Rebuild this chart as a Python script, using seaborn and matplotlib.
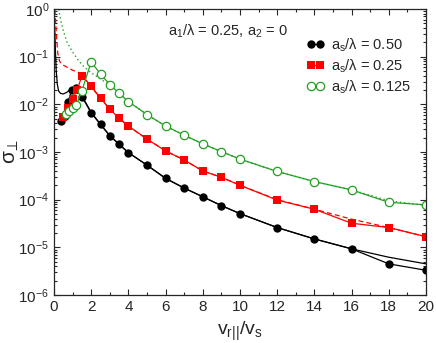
import numpy as np
import pandas as pd
import matplotlib
import matplotlib.pyplot as plt
import seaborn as sns
from matplotlib.ticker import LogLocator, MultipleLocator, NullFormatter

matplotlib.use("Agg")

# simulation points, one list per a_s/lambda
X_050 = [0.35, 0.6, 0.75, 0.95, 1.2, 1.5, 2, 2.5, 3, 3.5, 4, 5, 6, 7, 8, 9, 10, 12, 14, 16, 18, 20]
Y_050 = [4.4e-3, 5.6e-3, 1.1e-2, 2.0e-2, 2.2e-2, 1.45e-2, 6.6e-3, 3.8e-3, 2.2e-3, 1.45e-3, 9.7e-4,
         5.3e-4, 2.8e-4, 1.75e-4, 1.15e-4, 7.5e-5, 5.1e-5, 2.6e-5, 1.5e-5, 9.3e-6, 4.5e-6, 3.3e-6]

X_025 = [0.5, 0.75, 1.0, 1.25, 1.5, 2, 2.5, 3, 3.5, 4, 5, 6, 7, 8, 9, 10, 12, 14, 16, 18, 20]
Y_025 = [5.5e-3, 8.5e-3, 1.3e-2, 2.0e-2, 4.0e-2, 2.4e-2, 1.35e-2, 7.9e-3, 5.1e-3, 3.5e-3, 1.87e-3,
         1.05e-3, 6.8e-4, 4.0e-4, 2.95e-4, 2.0e-4, 9.8e-5, 6.3e-5, 3.2e-5, 2.6e-5, 1.67e-5]

X_0125 = [0.65, 0.8, 1.0, 1.2, 1.5, 2, 2.5, 3, 3.5, 4, 5, 6, 7, 8, 9, 10, 12, 14, 16, 18, 20]
Y_0125 = [6.4e-3, 7.1e-3, 8.3e-3, 9.5e-3, 1.93e-2, 7.8e-2, 4.3e-2, 2.6e-2, 1.7e-2, 1.14e-2, 6.1e-3,
          3.5e-3, 2.25e-3, 1.48e-3, 1.02e-3, 7.1e-4, 3.9e-4, 2.4e-4, 1.6e-4, 8.8e-5, 7.8e-5]

# theory curves
TX_050 = [0.02, 0.05, 0.08, 0.12, 0.18, 0.25, 0.35, 0.5, 0.7, 0.9, 1.1, 1.3, 1.5, 2, 2.5, 3, 3.5, 4,
          5, 6, 7, 8, 9, 10, 12, 14, 16, 18, 20]
TY_050 = [0.5, 0.3, 0.12, 0.05, 0.026, 0.019, 0.017, 0.0165, 0.018, 0.021, 0.022, 0.019, 0.015,
          6.8e-3, 3.8e-3, 2.2e-3, 1.45e-3, 9.7e-4, 5.3e-4, 2.8e-4, 1.75e-4, 1.15e-4, 7.5e-5,
          5.1e-5, 2.6e-5, 1.5e-5, 9.3e-6, 6.2e-6, 4.5e-6]

TX_025 = [0.05, 0.1, 0.15, 0.2, 0.3, 0.45, 0.7, 1.0, 1.4, 1.75, 2.0, 2.5, 3, 3.5, 4, 5, 6, 7, 8, 9,
          10, 12, 14, 16, 18, 20]
TY_025 = [0.95, 0.45, 0.22, 0.12, 0.08, 0.068, 0.06, 0.052, 0.045, 0.031, 0.023, 0.0135, 7.9e-3,
          5.1e-3, 3.5e-3, 1.87e-3, 1.05e-3, 6.8e-4, 4.0e-4, 2.95e-4, 2.0e-4, 1.0e-4, 6.3e-5,
          3.9e-5, 2.6e-5, 1.67e-5]

TX_0125 = [0.25, 0.35, 0.5, 0.7, 1.0, 1.3, 1.6, 2.0, 2.5, 3, 3.5, 4, 5, 6, 7, 8, 9, 10, 12, 14, 16,
           18, 20]
TY_0125 = [1.0, 0.6, 0.35, 0.2, 0.125, 0.085, 0.062, 0.046, 0.034, 0.025, 0.0175, 0.0116, 6.1e-3,
           3.5e-3, 2.25e-3, 1.48e-3, 1.02e-3, 7.1e-4, 3.9e-4, 2.4e-4, 1.6e-4, 9.5e-5, 7.5e-5]

LABELS = ["a$_s$/λ = 0.50", "a$_s$/λ = 0.25", "a$_s$/λ = 0.125"]
BLACK = "#000000"
RED = "#ff0000"
GREEN = "#23a023"

sns.set_style("ticks")
plt.rcParams["font.family"] = ["Liberation Sans", "DejaVu Sans"]
plt.rcParams["mathtext.fontset"] = "custom"
plt.rcParams["mathtext.rm"] = "Liberation Sans"
plt.rcParams["mathtext.default"] = "regular"

fig, ax = plt.subplots(figsize=(4.36, 3.43), dpi=100)
fig.subplots_adjust(left=54 / 436, right=426 / 436, bottom=1 - 295 / 343, top=1 - 9 / 343)

# theory lines
sns.lineplot(x=TX_050, y=TY_050, ax=ax, color=BLACK, linewidth=0.9, estimator=None, sort=False)
sns.lineplot(x=TX_025, y=TY_025, ax=ax, color=RED, linewidth=0.9, linestyle=(0, (4, 2.5)),
             estimator=None, sort=False)
sns.lineplot(x=TX_0125, y=TY_0125, ax=ax, color=GREEN, linewidth=1.0, linestyle=(0, (1, 2)),
             estimator=None, sort=False)

# simulation points
h1 = sns.lineplot(x=X_050, y=Y_050, ax=ax, color=BLACK, linewidth=0.9, marker="o", markersize=6,
                  markeredgewidth=0, estimator=None, sort=False).lines[-1]
h2 = sns.lineplot(x=X_025, y=Y_025, ax=ax, color=RED, linewidth=0.9, marker="s", markersize=5.5,
                  markeredgewidth=0, estimator=None, sort=False).lines[-1]
h3 = sns.lineplot(x=X_0125, y=Y_0125, ax=ax, color=GREEN, linewidth=0.9, marker="o", markersize=6,
                  markerfacecolor="white", markeredgecolor=GREEN, markeredgewidth=0.9,
                  estimator=None, sort=False).lines[-1]

ax.set_yscale("log")
ax.set_xlim(0, 20)
ax.set_ylim(1e-6, 1)
ax.xaxis.set_major_locator(MultipleLocator(2))
ax.xaxis.set_minor_locator(MultipleLocator(1))
ax.yaxis.set_major_locator(LogLocator(base=10, numticks=10))
ax.yaxis.set_minor_locator(LogLocator(base=10, subs=np.arange(2, 10), numticks=10))
ax.yaxis.set_minor_formatter(NullFormatter())
ax.tick_params(which="both", direction="in", top=True, right=True, labelsize=11, width=0.8)
ax.tick_params(which="major", length=4)
ax.tick_params(which="minor", length=2)
for spine in ax.spines.values():
    spine.set_linewidth(0.9)

ax.set_xlabel("v$_{r||}$/v$_s$", fontsize=14)
ax.xaxis.set_label_coords(0.5, -0.085)
ax.set_ylabel("σ$_{⊥}$", fontsize=15)
ax.yaxis.set_label_coords(-0.088, 0.5)

ax.text((168 - 54) / 372, 0.923, "a$_1$/λ = 0.25, a$_2$ = 0", transform=ax.transAxes,
        ha="left", va="center", fontsize=10.5)

ax.legend([h1, h2, h3], LABELS, loc="upper left", bbox_to_anchor=(0.68, 0.905), frameon=False,
          fontsize=10.5, numpoints=2, handlelength=1.2, handletextpad=0.45, labelspacing=0.25,
          borderpad=0, borderaxespad=0)

fig.savefig("out.png", dpi=100)
